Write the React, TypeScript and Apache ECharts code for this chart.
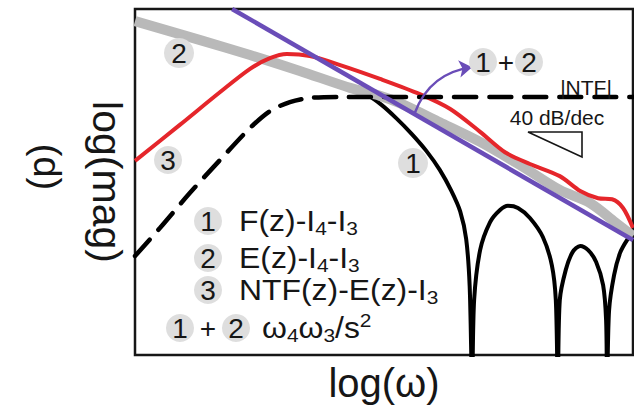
import React, { useEffect, useRef } from "react";
import * as echarts from "echarts";

const FONT = '"Liberation Sans", Arial, Helvetica, sans-serif';

// Axes are schematic: log(ω) and log(mag) both run over 0..100 arbitrary log units.
const xRange = [0, 100];
const yRange = [0, 100];

// Curve 1: F(z)-I4-I3 (notched loop response)
const curveF: [number, number][] = [
  [39.2, 79.1], [43.0, 77.2], [46.5, 75.2], [49.5, 72.3], [52.5, 68.4], [55.5, 64.0],
  [58.5, 59.0], [61.2, 53.5], [63.5, 47.5], [65.3, 41.5], [66.5, 33.5], [67.2, 20.0], [67.7, -8],
  [68.1, 15.9], [69.3, 30.3], [71.3, 38.4], [73.3, 41.9], [74.9, 43.1], [76.9, 42.5],
  [79.3, 39.6], [81.9, 34.1], [83.7, 26.0], [84.5, 15.9], [84.9, -8],
  [85.3, 15.9], [86.5, 24.6], [87.9, 29.8], [89.4, 31.5], [91.0, 30.3], [92.6, 26.9],
  [94.0, 20.2], [94.6, 10.1], [94.8, -8],
  [95.2, 13.0], [96.2, 23.1], [97.4, 29.5], [98.8, 33.2], [100, 35.3],
];

// Curve 2: E(z)-I4-I3
const curveE: [number, number][] = [
  [0, 96.5], [13.1, 91.0], [23.1, 86.7], [33.1, 82.1], [43.2, 77.2], [49.2, 74.9],
  [53.2, 72.8], [61.2, 67.3], [69.3, 61.6], [77.3, 54.9], [85.3, 47.7], [91.4, 43.9],
  [96.4, 38.4], [100, 34.4],
];

// Curve 3: NTF(z)-E(z)-I3
const curveNtfE: [number, number][] = [
  [0, 56.1], [9.0, 66.5], [17.1, 76.0], [23.1, 82.7], [27.1, 85.8], [30.5, 87.0],
  [35.1, 86.4], [41.2, 83.8], [49.2, 79.8], [57.2, 75.4], [63.3, 71.1], [69.3, 64.5],
  [74.3, 58.6], [79.3, 55.2], [85.3, 51.7], [89.4, 47.4], [93.0, 45.3], [95.8, 45.0],
  [98.0, 42.5], [100, 36.7],
];

// |NTF|
const curveNtf: [number, number][] = [
  [0, 28.6], [5.0, 36.7], [11.0, 46.8], [17.1, 56.4], [23.1, 65.6], [27.1, 70.5],
  [31.1, 73.1], [35.1, 74.3], [41.2, 74.6], [100, 74.6],
];

// Curve 1+2: ω4ω3/s² asymptote (40 dB/dec)
const asymptote: [number, number][] = [[19.5, 100], [100, 33.2]];

// Pointer from the asymptote to its label
const pointer: [number, number][] = [[56.2, 70.0], [67.7, 83.2]];

const legendRows = [
  { badge: "1", text: "{m|F(z)-I}{b|4}{m|-I}{b|3}" },
  { badge: "2", text: "{m|E(z)-I}{b|4}{m|-I}{b|3}" },
  { badge: "3", text: "{m|NTF(z)-E(z)-I}{b|3}" },
];
const comboText = "{m|ω}{b|4}{m|ω}{b|3}{m|/s}{p|2}";

const INK = "#161616";
const BADGE = "#dedede";
const PURPLE = "#6a4db8";

const rich = {
  m: { fontSize: 29, fontFamily: FONT, fill: INK, color: INK, lineHeight: 34 },
  b: { fontSize: 19, fontFamily: FONT, fill: INK, color: INK, lineHeight: 19, padding: [15, 0, 0, 0] },
  p: { fontSize: 19, fontFamily: FONT, fill: INK, color: INK, lineHeight: 19, padding: [0, 0, 15, 0] },
};

function badge(label: string, x: number, y: number, r: number) {
  return [
    { type: "circle", shape: { cx: x, cy: y, r }, style: { fill: BADGE }, z: 20 },
    {
      type: "text", x, y, z: 21,
      style: { text: label, fill: INK, font: `28px ${FONT}`, align: "center", verticalAlign: "middle" },
    },
  ];
}

export default function App() {
  const ref = useRef<HTMLDivElement>(null);

  useEffect(() => {
    if (!ref.current) return;
    const chart = echarts.init(ref.current, undefined, { renderer: "svg" });

    const graphic: any[] = [];
    graphic.push({
      type: "text", x: 47, y: 167, rotation: -Math.PI / 2, z: 20,
      style: { text: "(d)", fill: INK, font: `38px ${FONT}`, align: "center", verticalAlign: "middle" },
    });
    graphic.push(...badge("2", 179, 53, 15));
    graphic.push(...badge("3", 168, 160, 14));
    graphic.push(...badge("1", 413, 163, 15));
    graphic.push(...badge("1", 483, 62, 14));
    graphic.push({
      type: "text", x: 506, y: 62, z: 21,
      style: { text: "+", fill: INK, font: `28px ${FONT}`, align: "center", verticalAlign: "middle" },
    });
    graphic.push(...badge("2", 529, 62, 14));

    legendRows.forEach((row, i) => {
      const y = [221, 258, 290][i];
      graphic.push(...badge(row.badge, 208, y, 14));
      graphic.push({
        type: "text", x: 239, y, z: 21, scaleX: 1.1,
        style: { text: row.text, rich, verticalAlign: "middle", align: "left" },
      });
    });
    graphic.push(...badge("1", 180, 328, 14));
    graphic.push({
      type: "text", x: 208, y: 328, z: 21,
      style: { text: "+", fill: INK, font: `28px ${FONT}`, align: "center", verticalAlign: "middle" },
    });
    graphic.push(...badge("2", 236, 328, 14));
    graphic.push({
      type: "text", x: 262, y: 328, z: 21, scaleX: 1.1,
      style: { text: comboText, rich, verticalAlign: "middle", align: "left" },
    });

    graphic.push({
      type: "text", x: 586, y: 87, z: 21,
      style: { text: "|NTF|", fill: INK, font: `21px ${FONT}`, align: "center", verticalAlign: "middle" },
    });
    graphic.push({
      type: "text", x: 557, y: 117, z: 21,
      style: { text: "40 dB/dec", fill: INK, font: `21px ${FONT}`, align: "center", verticalAlign: "middle" },
    });
    graphic.push({
      type: "polygon", z: 21,
      shape: { points: [[528, 132], [582, 132], [582, 157]] },
      style: { fill: "none", stroke: INK, lineWidth: 1.6 },
    });

    chart.setOption({
      animation: false,
      backgroundColor: "#ffffff",
      grid: {
        left: 135, right: 1, top: 9, bottom: 54,
        show: true, borderColor: INK, borderWidth: 2.5, backgroundColor: "transparent",
      },
      xAxis: {
        type: "value", min: xRange[0], max: xRange[1],
        name: "log(ω)", nameLocation: "middle", nameGap: 8,
        nameTextStyle: { fontSize: 40, fontFamily: FONT, color: INK },
        axisLine: { show: false }, axisTick: { show: false },
        axisLabel: { show: false }, splitLine: { show: false },
      },
      yAxis: {
        type: "value", min: yRange[0], max: yRange[1],
        name: "log(mag)", nameLocation: "middle", nameGap: 8, nameRotate: -90,
        nameTextStyle: { fontSize: 41, fontFamily: FONT, color: INK },
        axisLine: { show: false }, axisTick: { show: false },
        axisLabel: { show: false }, splitLine: { show: false },
      },
      graphic,
      series: [
        {
          name: "F(z)-I4-I3", type: "line", data: curveF, showSymbol: false, clip: true,
          smooth: 0.3, z: 2,
          lineStyle: { color: "#000000", width: 4 },
        },
        {
          name: "E(z)-I4-I3", type: "line", data: curveE, showSymbol: false, clip: true,
          smooth: 0.3, z: 3,
          lineStyle: { color: "#b9b9b9", width: 10 },
        },
        {
          name: "NTF(z)-E(z)-I3", type: "line", data: curveNtfE, showSymbol: false, clip: true,
          smooth: 0.3, z: 4,
          lineStyle: { color: "#e5262b", width: 4 },
        },
        {
          name: "|NTF|", type: "line", data: curveNtf, showSymbol: false, clip: true,
          smooth: 0.3, z: 5,
          lineStyle: { color: "#000000", width: 4.5, type: [22, 13], cap: "round" },
        },
        {
          name: "ω4ω3/s²", type: "line", data: asymptote, showSymbol: false, clip: true, z: 6,
          lineStyle: { color: PURPLE, width: 4.5 },
        },
        {
          name: "pointer", type: "lines", coordinateSystem: "cartesian2d", z: 7,
          symbol: ["none", "arrow"], symbolSize: 13,
          lineStyle: { color: PURPLE, width: 2.5, curveness: 0.3, opacity: 1 },
          data: [{ coords: pointer }],
        },
      ],
    });

    return () => chart.dispose();
  }, []);

  return (
    <div
      ref={ref}
      style={{ position: "fixed", left: 0, top: 0, width: 634, height: 409, background: "#fff" }}
    />
  );
}
